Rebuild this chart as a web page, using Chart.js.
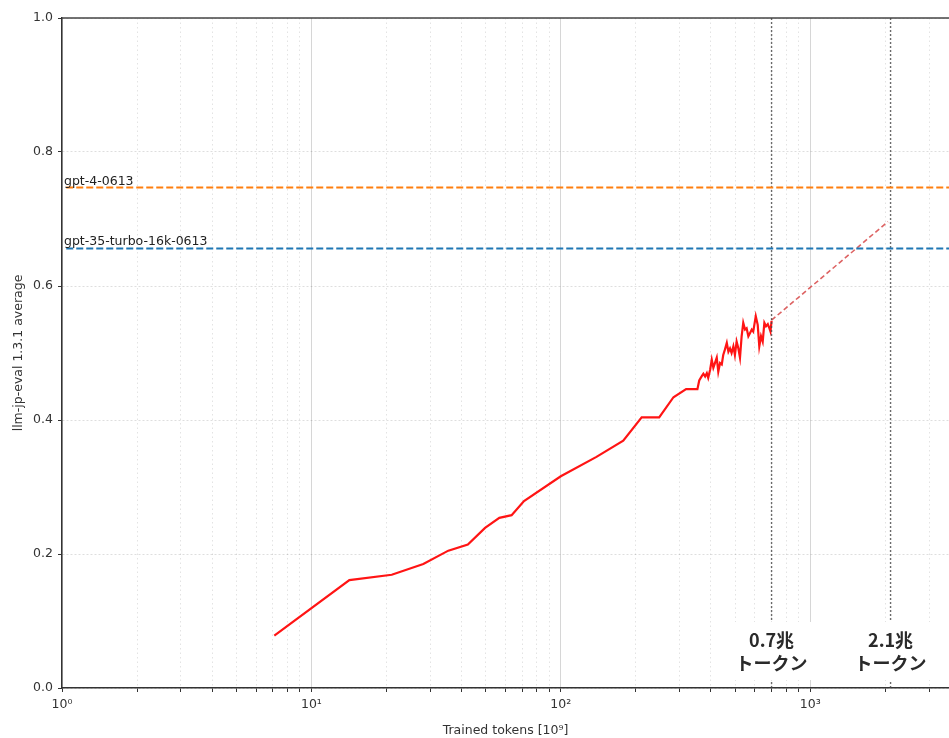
<!DOCTYPE html>
<html>
<head>
<meta charset="utf-8">
<script src="https://cdn.jsdelivr.net/npm/chart.js@4.4.1/dist/chart.umd.min.js"></script>
<style>
html,body{margin:0;padding:0;background:#fff;}
canvas{display:block;}
</style>
</head>
<body>
<canvas id="c" width="949" height="738"></canvas>
<script>
// ---- data ----
const tokens = [7.1, 14.2, 21, 28.1, 35.4, 42.4, 49.7, 56.7, 63.5, 71.2, 100, 139, 178, 211, 248, 283, 318, 353,
  359, 367, 373, 379, 385, 390, 397, 403, 409, 415, 422, 428, 435, 442, 448, 455, 463, 470, 477, 484, 492, 499,
  507, 515, 523, 531, 539, 548, 556, 565, 574, 583, 591, 605, 616, 625, 635, 645, 655, 665, 676, 686, 693, 700];
const scores = [0.078, 0.161, 0.169, 0.185, 0.205, 0.214, 0.239, 0.254, 0.258, 0.279, 0.316, 0.345, 0.369, 0.404, 0.404, 0.434, 0.446, 0.446,
  0.459, 0.465, 0.469, 0.465, 0.470, 0.463, 0.475, 0.490, 0.478, 0.485, 0.493, 0.472, 0.485, 0.483, 0.497, 0.505, 0.515, 0.502, 0.507, 0.500, 0.510, 0.497,
  0.517, 0.507, 0.493, 0.525, 0.545, 0.535, 0.537, 0.525, 0.530, 0.535, 0.532, 0.555, 0.542, 0.510, 0.525, 0.517, 0.545, 0.540, 0.543, 0.537, 0.532, 0.548];
const extrapTokens = [700, 2050];
const extrapScores = [0.549, 0.696];
const refNames = ['gpt-4-0613', 'gpt-35-turbo-16k-0613'];
const refScores = [0.747, 0.656];
const refColors = ['#ff7f0e', '#1f77b4'];
const markerTokens = [700, 2100];
const markerLabels = [['0.7兆', 'トークン'], ['2.1兆', 'トークン']];
const xTickValues = [1, 10, 100, 1000];
const xTickLabels = ['10⁰', '10¹', '10²', '10³'];
const xGridValues = [1,2,3,4,5,6,7,8,9,10,20,30,40,50,60,70,80,90,100,200,300,400,500,600,700,800,900,1000,2000,3000];
const yTickValues = [0, 0.2, 0.4, 0.6, 0.8, 1.0];
const xMin = 1, xMax = 3602;

const FONT = '"DejaVu Sans", sans-serif';
const isMajorX = v => xTickValues.indexOf(v) >= 0;

const datasets = [];
refScores.forEach((s, i) => {
  datasets.push({
    data: [{x: 1.04, y: s}, {x: xMax, y: s}],
    borderColor: refColors[i], borderWidth: 2, borderDash: [7, 3], pointRadius: 0
  });
});
markerTokens.forEach(t => {
  datasets.push({
    data: [{x: t, y: 0}, {x: t, y: 1}],
    borderColor: 'rgba(70,70,70,0.8)', borderWidth: 1.4, borderDash: [2, 2], pointRadius: 0
  });
});
datasets.push({
  data: extrapTokens.map((t, i) => ({x: t, y: extrapScores[i]})),
  borderColor: 'rgba(215,70,70,0.85)', borderWidth: 1.6, borderDash: [5, 3], pointRadius: 0
});
datasets.push({
  data: tokens.map((t, i) => ({x: t, y: scores[i]})),
  borderColor: '#ff1414', borderWidth: 2.2, pointRadius: 0, tension: 0
});

const overlay = {
  id: 'overlay',
  afterDatasetsDraw(chart) {
    const ctx = chart.ctx, xs = chart.scales.x, area = chart.chartArea;
    ctx.save();
    ctx.fillStyle = '#222';
    ctx.font = '12.5px ' + FONT;
    ctx.textAlign = 'left';
    ctx.textBaseline = 'alphabetic';
    refScores.forEach((s, i) => {
      ctx.fillText(refNames[i], xs.getPixelForValue(1) + 2, chart.scales.y.getPixelForValue(s) - 3);
    });
    ctx.font = 'bold 18px "Noto Sans CJK JP", sans-serif';
    ctx.textAlign = 'center';
    ctx.textBaseline = 'middle';
    markerTokens.forEach((t, i) => {
      const px = xs.getPixelForValue(t);
      const w = Math.max(...markerLabels[i].map(s => ctx.measureText(s).width)) + 8;
      ctx.fillStyle = '#fff';
      ctx.fillRect(px - w / 2, area.bottom - 66, w, 58);
      ctx.fillStyle = '#2a2a2a';
      ctx.fillText(markerLabels[i][0], px, area.bottom - 48);
      ctx.fillText(markerLabels[i][1], px, area.bottom - 25);
    });
    ctx.restore();
  },
  afterDraw(chart) {
    const ctx = chart.ctx, area = chart.chartArea;
    ctx.save();
    ctx.strokeStyle = '#444';
    ctx.lineWidth = 1.5;
    ctx.beginPath();
    ctx.moveTo(area.left, area.top);
    ctx.lineTo(area.right + 2, area.top);
    ctx.stroke();
    ctx.restore();
  }
};

new Chart(document.getElementById('c'), {
  type: 'line',
  data: {datasets},
  options: {
    responsive: false,
    animation: false,
    layout: {padding: {top: 18, right: 0, left: 0, bottom: 0}},
    plugins: {legend: {display: false}, tooltip: {enabled: false}},
    scales: {
      x: {
        type: 'logarithmic',
        min: xMin, max: xMax,
        afterBuildTicks: scale => { scale.ticks = xGridValues.map(v => ({value: v, major: isMajorX(v)})); },
        afterFit: scale => { scale.height = 50; },
        ticks: {
          autoSkip: false, maxRotation: 0, padding: 5,
          color: '#333', font: {family: FONT, size: 12.5},
          callback: v => { const i = xTickValues.indexOf(v); return i >= 0 ? xTickLabels[i] : ''; }
        },
        grid: {
          color: c => c.tick && isMajorX(c.tick.value) ? 'rgba(0,0,0,0.16)' : 'rgba(0,0,0,0.11)',
          tickColor: '#333',
          lineWidth: 1,
          tickLength: 4
        },
        border: {
          color: '#333', width: 1.5,
          dash: c => c.tick && isMajorX(c.tick.value) ? [] : [1.5, 3]
        },
        title: {
          display: true, text: 'Trained tokens [10⁹]', color: '#333',
          font: {family: FONT, size: 12.5}, padding: {top: 0, bottom: 0}
        }
      },
      y: {
        min: 0, max: 1,
        afterBuildTicks: scale => { scale.ticks = yTickValues.map(v => ({value: v})); },
        afterFit: scale => { scale.width = 62; },
        ticks: {
          padding: 5, color: '#333', font: {family: FONT, size: 12.5},
          callback: v => v.toFixed(1)
        },
        grid: {color: 'rgba(0,0,0,0.13)', tickColor: '#333', tickLength: 4},
        border: {color: '#333', width: 1.5, dash: [2, 2]},
        title: {
          display: true, text: 'llm-jp-eval 1.3.1 average', color: '#333',
          font: {family: FONT, size: 12.5}, padding: {top: 11, bottom: 0}
        }
      }
    }
  },
  plugins: [overlay]
});
</script>
</body>
</html>
